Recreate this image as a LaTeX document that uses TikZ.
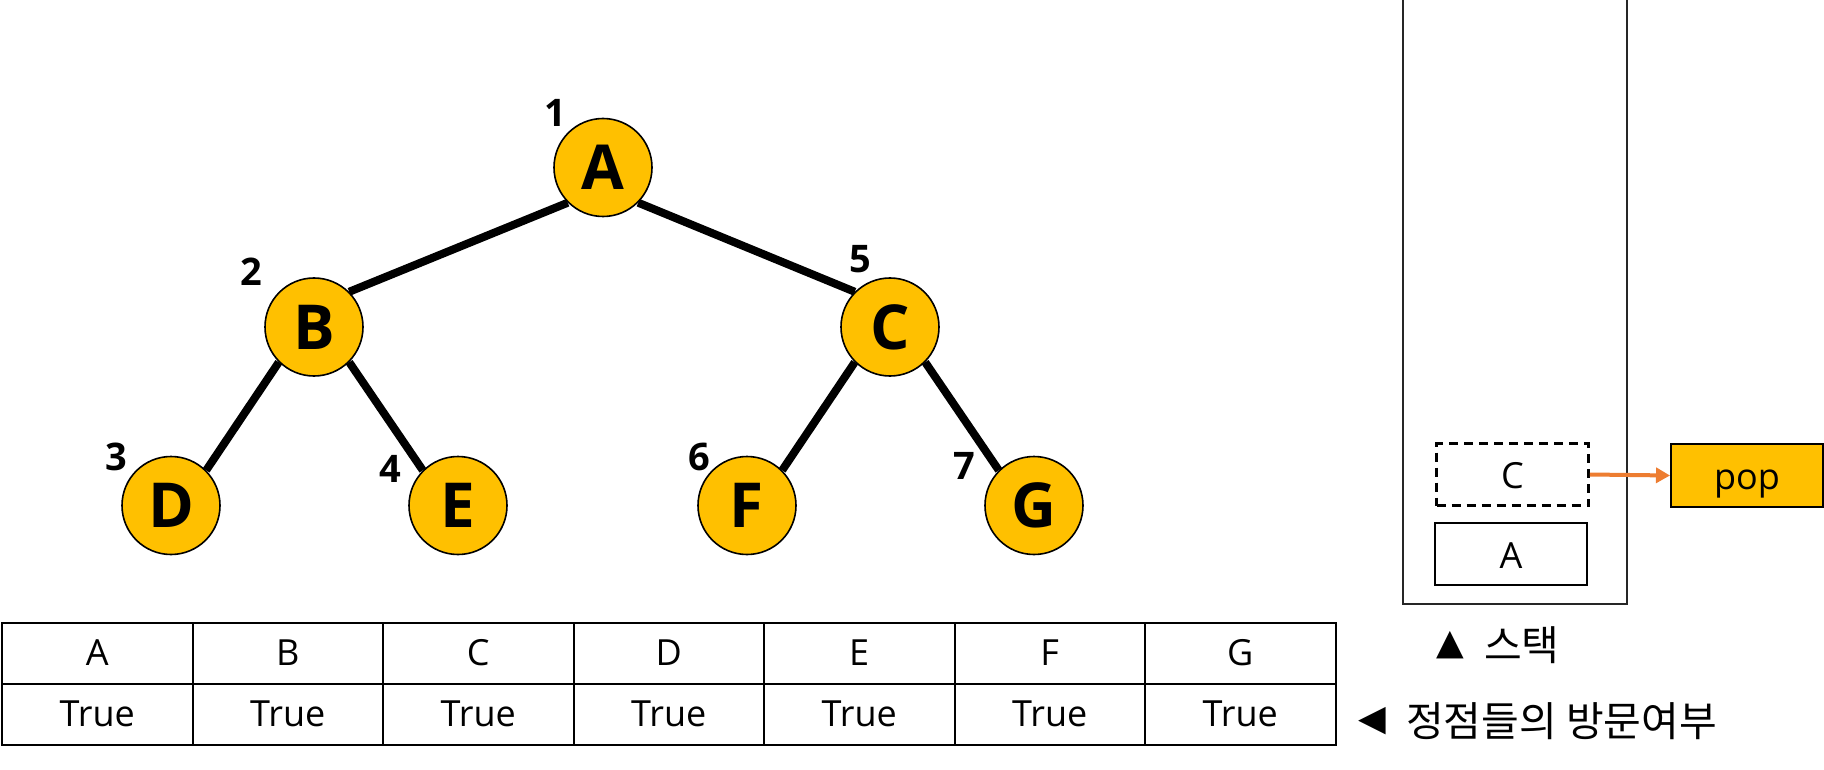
\documentclass[tikz,border=0pt]{standalone}
\usepackage{fontspec}
\setmainfont{Open Sans}
\newfontfamily\krfont{Noto Sans CJK KR}
\newfontfamily\symfont{DejaVu Sans}
\usetikzlibrary{arrows.meta}
\definecolor{gold}{HTML}{FFC000}
\definecolor{orng}{HTML}{ED7D31}
\begin{document}
\begin{tikzpicture}[x=1pt,y=-1pt,
  vert/.style={circle,draw=black,line width=1.6pt,fill=gold,minimum size=98pt,inner sep=0pt,font=\fontsize{62}{62}\selectfont\bfseries},
  edge/.style={line width=8pt},
  num/.style={font=\fontsize{38}{38}\selectfont\bfseries},
  cell/.style={rectangle,draw=black,line width=2pt,minimum width=190.5pt,minimum height=61pt,inner sep=0pt,font=\fontsize{36}{36}\selectfont},
  stk/.style={rectangle,draw=black,line width=2pt,minimum width=152pt,minimum height=62pt,inner sep=0pt,text height=34pt,text depth=6pt,font=\fontsize{36}{36}\selectfont},
  legend/.style={font=\krfont\fontsize{41}{41}\selectfont,anchor=west,inner sep=0pt}]
\useasboundingbox (0,0) rectangle (1824,770);
% tree
\node[vert] (A) at (603,167.5) {A};
\node[vert] (B) at (314,327) {B};
\node[vert] (C) at (890,327) {C};
\node[vert] (D) at (171,505.5) {D};
\node[vert] (E) at (458,505.5) {E};
\node[vert] (F) at (747,505.5) {F};
\node[vert] (G) at (1034,505.5) {G};
\draw[edge] (A.south west) -- (B.north east);
\draw[edge] (A.south east) -- (C.north west);
\draw[edge] (B.south west) -- (D.north east);
\draw[edge] (B.south east) -- (E.north west);
\draw[edge] (C.south west) -- (F.north east);
\draw[edge] (C.south east) -- (G.north west);
\node[num] (n1) at (555,113) {1};
\node[num] (n2) at (251,272) {2};
\node[num] (n3) at (116,457) {3};
\node[num] (n4) at (390,469) {4};
\node[num] (n5) at (860,259) {5};
\node[num] (n6) at (699,457) {6};
\node[num] (n7) at (964,466) {7};
% table
\foreach \l [count=\i] in {A,B,C,D,E,F,G}{
  \node[cell] (h\i) at ({2+190.5*(\i-0.5)},653) {\l};
  \node[cell] (v\i) at ({2+190.5*(\i-0.5)},714) {True};
}
% stack
\coordinate (s1) at (1403,0);
\coordinate (s2) at (1403,604);
\coordinate (s3) at (1627,604);
\coordinate (s4) at (1627,0);
\draw[line width=2.2pt,color=black!85] (s1) -- (s2) -- (s3) -- (s4);
\node[stk,dash pattern=on 9pt off 6pt,line width=2.6pt] (sc) at (1512.5,474.5) {C};
\node[stk] (sa) at (1511,554) {A};
\node[stk,fill=gold,minimum height=63pt] (pop) at (1747,475.5) {pop};
\draw[orng,line width=4pt,-{Triangle[length=14pt,width=15pt]}] (sc.east) -- (pop.west);
% legend
\node[font=\symfont\fontsize{36}{36}\selectfont,inner sep=0pt] (t1) at (1450.5,645) {▲};
\node[legend] (l1) at (1484,645) {스택};
\node[font=\symfont\fontsize{36}{36}\selectfont,inner sep=0pt] (t2) at (1372,721) {◀};
\node[legend] (l2) at (1406,721) {정점들의 방문여부};
\end{tikzpicture}
\end{document}
